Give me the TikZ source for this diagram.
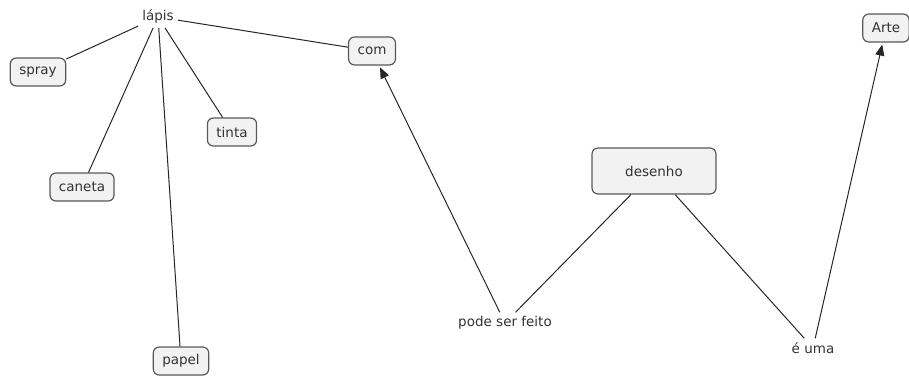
\documentclass[tikz,border=0pt]{standalone}
\usepackage{fontspec}
\setmainfont{DejaVu Sans}
\usetikzlibrary{shapes.geometric, arrows.meta}
\tikzstyle{concept} = [rectangle, rounded corners=6pt,
minimum height=28pt,
inner xsep=9pt,
text centered,
draw=black!65,
line width=1.2pt,
fill=gray!10]
\tikzstyle{linker} = [inner sep=4pt]
\tikzstyle{line} = [draw=black!85, line width=1pt]
\tikzstyle{arrow} = [line, -{Triangle[length=11pt,width=9pt]}, shorten >=2pt]

\begin{document}
\begin{tikzpicture}[x=1pt, y=-1pt, font=\fontsize{13.5}{15}\selectfont, text=black!80]
    \useasboundingbox (0,0) rectangle (909,376);

    \node (lapis) [linker] at (158,17) {lápis};
    \node (spray) [concept] at (38,72) {spray};
    \node (caneta) [concept] at (82,187) {caneta};
    \node (tinta) [concept] at (232,132) {tinta};
    \node (papel) [concept] at (181,361) {papel};
    \node (com) [concept] at (372,51) {com};
    \node (desenho) [concept, minimum width=124pt, minimum height=46pt] at (654,171) {desenho};
    \node (pode) [linker] at (505,323) {pode ser feito};
    \node (euma) [linker] at (813,348) {é uma};
    \node (arte) [concept] at (886,28) {Arte};

    \draw [line] (lapis) -- (spray);
    \draw [line] (lapis) -- (caneta);
    \draw [line] (lapis) -- (papel);
    \draw [line] (lapis) -- (tinta);
    \draw [line] (lapis) -- (com);
    \draw [line] (desenho) -- (pode);
    \draw [arrow] (pode) -- (com);
    \draw [line] (desenho) -- (euma);
    \draw [arrow] (euma) -- (arte);

\end{tikzpicture}
\end{document}
